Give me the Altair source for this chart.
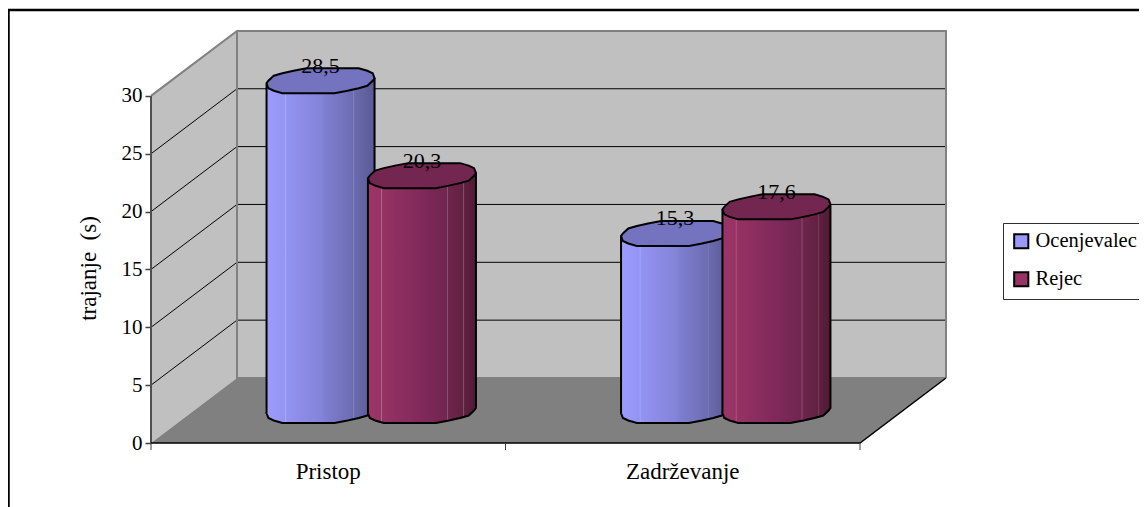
import math
import altair as alt
import pandas as pd

# ---- values
categories = ["Pristop", "Zadrževanje"]
series = ["Ocenjevalec", "Rejec"]
ocenjevalec = [28.5, 15.3]
rejec = [20.3, 17.6]
labels_ocenjevalec = ["28,5", "15,3"]
labels_rejec = ["20,3", "17,6"]
y_ticks = [0, 5, 10, 15, 20, 25, 30]
grid_values = [5, 10, 15, 20, 25]

# ---- scales: one category and one second in chart pixels
W, H = 1131, 499
PX_X, PX_Y = 354.5, 11.57
X0, Y0 = 143.0, 435.0
x_dom = [-X0 / PX_X, (W - X0) / PX_X]
y_dom = [(Y0 - H) / PX_Y, Y0 / PX_Y]
DX, DY = 86 / PX_X, 65 / PX_Y  # oblique depth of the box
XS = alt.Scale(domain=x_dom, range=[0, W], nice=False, zero=False)
YS = alt.Scale(domain=y_dom, range=[H, 0], nice=False, zero=False)
GRAY = "#808080"
WALL = "#C0C0C0"
FONT = "Liberation Serif"
FS = 22

AX = alt.Axis(values=y_ticks, offset=-X0, domain=False, grid=False, tickColor="#404040", tickSize=6, tickWidth=1.5,
              labelFont=FONT, labelFontSize=21, labelColor="#000000", labelPadding=3,
              titleFont=FONT, titleFontSize=23, titleFontWeight="normal", titleColor="#000000",
              titlePadding=21, titleY=260)
Y_TITLE = "trajanje \u00a0(s)"


def X():
    return alt.X("x:Q", scale=XS, axis=None)


def Y():
    return alt.Y("y:Q", scale=YS, axis=AX, title=Y_TITLE)


def seg(pts, color, width=1):
    d = pd.DataFrame([{"x": a, "y": b, "o": i} for i, (a, b) in enumerate(pts)])
    return alt.Chart(d).mark_line(color=color, strokeWidth=width).encode(x=X(), y=Y(), order="o:Q")


layers = []

# frame
fx = lambda px: x_dom[0] + px / PX_X
fy = lambda py: y_dom[1] - py / PX_Y
layers.append(seg([(fx(0.5), fy(H)), (fx(0.5), fy(2)), (fx(W), fy(2))], "#000000", 2.5))

# walls
back = pd.DataFrame([{"x": DX, "x2": 2 + DX, "y": DY, "y2": 30 + DY}])
layers.append(alt.Chart(back).mark_rect(color=WALL).encode(x=X(), x2="x2:Q", y=Y(), y2="y2:Q"))
left = pd.DataFrame([{"x": 0, "y": 0, "y2": 30}, {"x": DX, "y": DY, "y2": 30 + DY}])
layers.append(alt.Chart(left).mark_area(color=WALL, opacity=1).encode(x=X(), y=Y(), y2="y2:Q"))
floor = pd.DataFrame([
    {"x": 0, "y": 0, "y2": 0},
    {"x": DX, "y": 0, "y2": DY},
    {"x": 2, "y": 0, "y2": DY},
    {"x": 2 + DX, "y": DY, "y2": DY},
])
layers.append(alt.Chart(floor).mark_area(color=GRAY, opacity=1).encode(x=X(), y=Y(), y2="y2:Q"))

# grid lines
for v in grid_values:
    layers.append(seg([(0, v), (DX, v + DY), (2 + DX, v + DY)], "#000000", 1))

# wall edges
layers.append(seg([(0, 30), (DX, 30 + DY), (2 + DX, 30 + DY), (2 + DX, DY)], GRAY, 2))
layers.append(seg([(DX, 30 + DY), (DX, DY), (2 + DX, DY)], GRAY, 2))
layers.append(seg([(0, 0), (0, 30)], "#505050", 2))
layers.append(seg([(0, 0), (2, 0), (2 + DX, DY)], "#000000", 1.5))

# cylinders
BLUE_STOPS = [(0, "#9C9CFF"), (0.17, "#9494F4"), (0.175, "#ABABF8"), (0.185, "#9393F2"), (0.5, "#8484DA"),
              (0.55, "#7E7ED0"), (0.8, "#6C6CB2"), (0.805, "#8080BC"), (0.815, "#6A6AAE"), (1, "#5A5A94")]
RED_STOPS = [(0, "#9C3468"), (0.12, "#983365"), (0.125, "#B0658E"), (0.135, "#963264"), (0.5, "#80295A"),
             (0.73, "#702650"), (0.735, "#8E5A78"), (0.745, "#6E254D"), (0.88, "#62213F"),
             (0.885, "#805070"), (0.895, "#602040"), (1, "#4E1A34")]


def grad(stops):
    return alt.Gradient(gradient="linear", x1=0, x2=1, y1=0, y2=0,
                        stops=[alt.GradientStop(offset=o, color=c) for o, c in stops])


RX, RY, TILT = 54.0, 13.0, 3.0
N = 24
STEP = 2.5  # outline of the reference's cylinders is faceted, stepping about this many pixels
pts = []
for k in range(N):
    a = 2 * math.pi * k / N
    px = math.cos(a)
    py_px = RY * math.sin(a) - TILT * math.cos(a)
    py_px = round(py_px / STEP) * STEP
    pts.append(f"{px:.4f},{py_px / RX:.4f}")
ELLIPSE = "M" + " L".join(pts) + " Z"
SIZE = (2 * RX) ** 2
HALF = RX / PX_X
TILT_U = TILT / PX_Y


def cylinder(cx, value, stops, top):
    base = DY / 2
    y_top = base + value
    one = pd.DataFrame([{"x": cx, "y": y_top}])
    body = pd.DataFrame([
        {"x": cx - HALF, "y": y_top - TILT_U, "y2": base - TILT_U},
        {"x": cx + HALF, "y": y_top + TILT_U, "y2": base + TILT_U},
    ])
    out = []
    out.append(alt.Chart(pd.DataFrame([{"x": cx, "y": base}]))
               .mark_point(shape=ELLIPSE, size=SIZE, fill=grad(stops), stroke="#000000", strokeWidth=2, opacity=1, fillOpacity=1)
               .encode(x=X(), y=Y()))
    out.append(alt.Chart(body).mark_area(color=grad(stops), opacity=1).encode(x=X(), y=Y(), y2="y2:Q"))
    for side, t in ((-1, -TILT_U), (1, TILT_U)):
        d = pd.DataFrame([{"x": cx + side * HALF, "y": y_top + t, "y2": base + t}])
        out.append(alt.Chart(d).mark_rule(color="#000000", strokeWidth=2).encode(x=X(), y=Y(), y2="y2:Q"))
    out.append(alt.Chart(one)
               .mark_point(shape=ELLIPSE, size=SIZE, fill=top, stroke="#000000", strokeWidth=2, opacity=1, fillOpacity=1)
               .encode(x=X(), y=Y()))
    return out


GAP = 50.7 / PX_X
texts = []
for i, (a, b) in enumerate(zip(ocenjevalec, rejec)):
    c = i + 0.5 + DX / 2
    layers += cylinder(c - GAP, a, BLUE_STOPS, "#7373BF")
    layers += cylinder(c + GAP, b, RED_STOPS, "#732650")
    texts.append({"x": c - GAP, "y": DY / 2 + a, "t": labels_ocenjevalec[i]})
    texts.append({"x": c + GAP, "y": DY / 2 + b, "t": labels_rejec[i]})

layers.append(alt.Chart(pd.DataFrame(texts)).mark_text(font=FONT, fontSize=FS, color="#000000", dy=-15, baseline="middle")
              .encode(x=X(), y=Y(), text="t:N"))

# category names
cat_df = pd.DataFrame([{"x": i + 0.5, "y": -2.5, "t": c} for i, c in enumerate(categories)])
layers.append(alt.Chart(cat_df).mark_text(font=FONT, fontSize=23, color="#000000", baseline="middle")
              .encode(x=X(), y=Y(), text="t:N"))

# x ticks
tick_df = pd.DataFrame([{"x": i, "y": 0, "y2": -7 / PX_Y} for i in (0, 1, 2)])
layers.append(alt.Chart(tick_df).mark_rule(color="#404040", strokeWidth=1).encode(x=X(), y=Y(), y2="y2:Q"))

# legend
leg_df = pd.DataFrame({"s": series, "x": 1, "y": 10})
layers.append(alt.Chart(leg_df).mark_square(opacity=0).encode(
    x=X(), y=Y(),
    color=alt.Color("s:N", scale=alt.Scale(domain=series, range=["#9999FF", "#993366"]),
                    legend=alt.Legend(orient="none", legendX=995, legendY=215, title=None,
                                      labelFont=FONT, labelFontSize=20.5, labelColor="#000000",
                                      symbolType="square", symbolSize=200, symbolOpacity=1,
                                      symbolStrokeColor="#000000", symbolStrokeWidth=2,
                                      strokeColor="#303030", fillColor="#FFFFFF", padding=8,
                                      rowPadding=15, labelOffset=4, labelLimit=300))))

chart = alt.layer(*layers).properties(
    width=W, height=H,
    padding={"left": 0, "right": 0, "top": 0, "bottom": 0},
    autosize=alt.AutoSizeParams(type="none"),
).configure_view(stroke=None)
chart.save("out.html", embed_options={"renderer": "svg", "actions": False})
